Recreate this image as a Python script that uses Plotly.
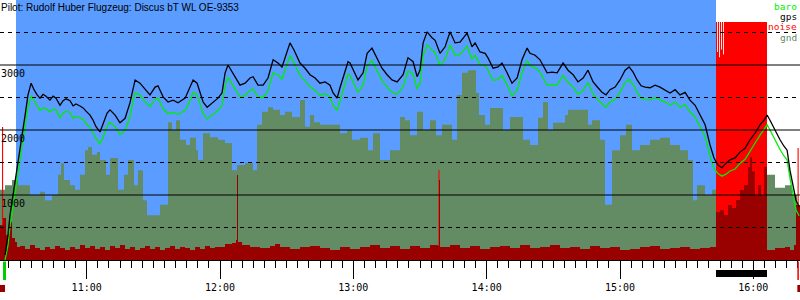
import plotly.graph_objects as go

# ---------------- data ----------------
TITLE = "Pilot: Rudolf Huber Flugzeug: Discus bT WL OE-9353"

# time in minutes after midnight
track_t = [623.3, 624.6, 625.5, 626.9, 627.8, 629.1, 630.0, 631.4, 632.3, 633.6, 635.0, 636.3, 637.7, 639.0,
           640.4, 641.7, 643.5, 644.9, 646.2, 648.0, 649.4, 650.7, 652.5, 653.9, 655.2, 657.0, 658.4, 659.7,
           661.5, 662.9, 664.2, 666.0, 667.4, 669.2, 670.5, 672.8, 675.0, 677.3, 679.5, 680.9, 681.8, 684.0,
           686.3, 688.5, 690.8, 692.1, 694.4, 696.6, 698.9, 701.1, 704.3, 706.5, 707.9, 709.7, 711.0, 712.4,
           714.2, 716.9, 719.1, 720.9, 722.3, 723.6, 725.4, 727.7, 729.0, 731.3, 733.5, 734.9, 737.1, 739.4,
           741.6, 743.9, 746.1, 747.9, 749.7, 751.5, 753.3, 756.0, 758.3, 760.5, 762.8, 765.0, 767.3, 769.5,
           770.9, 772.7, 774.0, 776.3, 777.6, 778.5, 780.8, 782.1, 784.4, 786.2, 788.4, 790.7, 792.9, 795.2,
           797.4, 799.7, 802.4, 804.6, 806.9, 808.7, 810.0, 811.4, 813.2, 815.4, 816.8, 819.0, 821.3, 823.5,
           825.8, 828.0, 831.2, 833.4, 834.8, 837.0, 839.3, 840.6, 842.9, 845.1, 846.9, 849.2, 851.4, 853.7,
           855.9, 858.2, 859.5, 861.8, 864.0, 867.2, 869.4, 871.7, 874.4, 876.6, 878.9, 881.1, 883.4, 885.6,
           887.9, 890.1, 891.9, 893.7, 895.5, 897.8, 900.0, 902.3, 904.1, 905.9, 907.7, 909.5, 911.3, 913.5,
           915.8, 918.0, 920.3, 922.5, 924.8, 927.0, 929.3, 931.5, 933.8, 936.0, 938.3, 940.5, 942.3, 944.1,
           945.9, 947.7, 949.5, 951.8, 954.0, 956.3, 958.5, 960.8, 963.0, 964.8, 966.2, 967.5, 968.9, 970.7,
           972.0, 973.8, 975.2, 976.5, 977.9, 979.2, 980.6]

gps = [80, 385, 690, 1000, 1230, 1460, 1690, 2000, 2230, 2540, 2720, 2620, 2540, 2490,
       2550, 2520, 2460, 2520, 2490, 2380, 2450, 2480, 2450, 2370, 2400, 2370, 2340, 2290,
       2230, 2150, 2050, 1970, 2090, 2260, 2310, 2230, 2110, 2180, 2420, 2650, 2770, 2720,
       2620, 2540, 2660, 2680, 2510, 2430, 2460, 2420, 2490, 2650, 2770, 2720, 2570, 2430,
       2350, 2430, 2490, 2570, 2880, 3000, 2890, 2770, 2690, 2720, 2800, 2820, 2690, 2690,
       2800, 3080, 3030, 2970, 3150, 3340, 3230, 3030, 2950, 2850, 2800, 2720, 2740, 2690,
       2570, 2490, 2650, 2920, 3050, 3030, 2850, 2770, 2880, 3180, 3260, 3110, 2950, 2850,
       2770, 2740, 2850, 3110, 3050, 2820, 2920, 3340, 3510, 3420, 3380, 3180, 3280, 3510,
       3340, 3350, 3490, 3280, 3340, 3200, 3180, 3110, 2950, 2970, 3030, 2880, 2720, 2800,
       3080, 3260, 3180, 3150, 3080, 2880, 2890, 2880, 3030, 2920, 2850, 2740, 2800, 2920,
       2740, 2650, 2580, 2540, 2620, 2660, 2770, 2920, 2970, 2890, 2770, 2680, 2660, 2650,
       2690, 2660, 2620, 2570, 2620, 2540, 2580, 2460, 2380, 2230, 2080, 1770, 1570, 1460,
       1420, 1490, 1540, 1570, 1660, 1720, 1850, 1950, 2080, 2150, 2230, 2150, 2050, 1920,
       1850, 1750, 1690, 1380, 1120, 920, 820]

baro = [0, 230, 520, 830, 1060, 1290, 1520, 1820, 2050, 2350, 2530, 2450, 2360, 2300,
        2340, 2330, 2280, 2320, 2310, 2190, 2260, 2290, 2270, 2180, 2210, 2190, 2160, 2100,
        2040, 1960, 1870, 1790, 1890, 2060, 2120, 2050, 1930, 1990, 2210, 2450, 2570, 2540,
        2430, 2360, 2470, 2490, 2330, 2250, 2270, 2240, 2300, 2450, 2580, 2540, 2380, 2250,
        2170, 2240, 2300, 2380, 2680, 2810, 2710, 2590, 2510, 2530, 2610, 2630, 2510, 2500,
        2610, 2880, 2850, 2780, 2950, 3140, 3040, 2840, 2760, 2660, 2610, 2530, 2560, 2500,
        2380, 2300, 2450, 2720, 2860, 2840, 2660, 2580, 2690, 2980, 3070, 2920, 2760, 2660,
        2580, 2550, 2660, 2910, 2860, 2630, 2720, 3140, 3310, 3230, 3190, 2990, 3090, 3310,
        3150, 3160, 3290, 3090, 3150, 3010, 2990, 2920, 2760, 2780, 2840, 2690, 2530, 2610,
        2880, 3070, 2990, 2960, 2890, 2690, 2700, 2690, 2840, 2730, 2660, 2550, 2610, 2730,
        2550, 2460, 2400, 2350, 2430, 2470, 2580, 2730, 2780, 2700, 2580, 2490, 2470, 2460,
        2500, 2470, 2430, 2380, 2430, 2350, 2390, 2280, 2200, 2050, 1900, 1600, 1410, 1330,
        1290, 1320, 1370, 1400, 1490, 1550, 1680, 1800, 1920, 2000, 2080, 2000, 1900, 1770,
        1700, 1600, 1540, 1260, 990, 770, 680]

gnd_t = [621, 623.25, 626.4, 629.1, 634.5, 639, 641.25, 644.4, 647.1, 648.45, 649.8, 652.5, 654.75,
         657, 659.25, 660.6, 662.4, 664.65, 666, 668.7, 670.5, 674.1, 676.8, 678.6, 681.3, 683.1,
         685.35, 687.15, 693, 696.6, 698.4, 700.2, 702, 704.7, 706.5, 709.2, 710.1, 712.35, 715.5,
         719.1, 722.25, 725.4, 727.65, 731.25, 734.85, 736.65, 738.9, 741.6, 743.85, 747, 749.25,
         752.4, 756, 758.25, 760.5, 762.3, 765, 770.85, 774, 777.15, 779.4, 783, 786.6, 788.85, 792,
         796.5, 801, 803.25, 805.5, 808.65, 811.35, 814.5, 817.2, 819.9, 824.4, 826.65, 828.9, 831.6,
         835.2, 836.55, 839.25, 841.5, 847.35, 850.5, 856.35, 859.5, 863.1, 865.35, 867.6, 869.85,
         875.25, 876.6, 885.6, 887.4, 891, 893.25, 896.4, 900, 902.7, 905.4, 909, 913.5, 918, 922.5,
         927, 930.6, 932.85, 934.65, 938.25, 941.4, 943.2, 966.15, 969.75, 974.25, 977.4, 979.65, 981]
gnd = [1080, 1150, 1230, 1150, 1000, 1050, 920, 1000, 1310, 1490, 1230, 1150, 1080,
       1310, 1690, 1740, 1620, 1660, 1540, 1310, 1570, 1080, 1310, 1540, 1150, 1380,
       920, 690, 850, 2120, 2000, 2150, 1850, 1770, 1880, 1690, 1540, 1950, 1890,
       1850, 1800, 1380, 1460, 1490, 1380, 2080, 2280, 2350, 2310, 2230, 2280,
       2200, 2460, 2050, 2230, 2120, 2080, 2080, 1950, 2000, 1850, 1880, 1690, 1950, 1540,
       1690, 2200, 2150, 1920, 2280, 2000, 2150, 1920, 2080, 1850, 2540, 2880, 2920,
       2570, 2230, 2080, 2340, 2000, 2200, 1850, 1770, 2190, 2430, 2000, 2110,
       2230, 2310, 2080, 2150, 1850, 850, 1690, 1920, 2080, 1690, 1770, 1850, 1880, 1770,
       1690, 1540, 920, 1150, 1000, 1080, 1080, 1310, 1110, 1150, 1000, 770, 770]

noise_t = [621.0, 622.35, 623.7, 625.05, 626.4, 627.75, 628.65, 630.0, 632.25, 634.5, 636.75, 639.0,
           641.25, 643.5, 645.75, 648.0, 650.25, 652.5, 654.75, 657.0, 659.25, 661.5, 663.75, 666.0,
           668.25, 670.5, 672.75, 675.0, 677.25, 679.5, 681.75, 684.0, 686.25, 688.5, 690.75, 693.0,
           695.25, 697.5, 699.75, 702.0, 704.25, 706.5, 708.75, 711.0, 713.25, 715.5, 717.75, 722.25,
           725.4, 727.2, 727.65, 728.1, 729.9, 733.5, 738.0, 742.5, 744.75, 747.0, 751.5, 756.0, 760.5,
           765.0, 769.5, 774.0, 778.5, 783.0, 787.5, 792.0, 796.5, 801.0, 805.5, 810.0, 814.5, 818.1,
           818.55, 819.0, 823.5, 828.0, 832.5, 837.0, 841.5, 846.0, 850.5, 855.0, 859.5, 864.0, 868.5,
           873.0, 877.5, 882.0, 886.5, 891.0, 895.5, 900.0, 904.5, 909.0, 913.5, 918.0, 922.5, 927.0,
           931.5, 936.0, 940.5, 943.2, 945.0, 946.8, 948.6, 950.4, 952.2, 954.0, 955.8, 957.6, 958.5,
           959.4, 960.75, 962.1, 963.45, 964.8, 966.15, 969.75, 974.25, 976.5, 978.3, 979.2, 981.0]
noise = [135, 162, 96, 146, 85, 69, 50, 54, 42, 58, 46, 38,
         50, 42, 54, 46, 38, 50, 42, 58, 46, 54, 42, 50,
         38, 54, 46, 58, 42, 50, 38, 46, 54, 42, 50, 38,
         46, 54, 42, 50, 46, 38, 50, 42, 54, 46, 50, 62,
         65, 77, 327, 69, 58, 50, 46, 54, 62, 50, 42, 50, 54,
         46, 38, 50, 42, 50, 58, 46, 54, 42, 54, 46, 58, 54,
         308, 50, 58, 46, 54, 42, 50, 54, 46, 58, 46, 50, 58,
         46, 50, 42, 54, 46, 50, 38, 42, 50, 54, 42, 46, 50,
         42, 46, 50, 185, 192, 173, 212, 200, 231, 269, 288, 358, 396,
         340, 250, 288, 250, 358, 38, 46, 50, 38, 58, 212, 212]

motor_t = [621.0, 621.9, 622.4, 818.3, 818.8, 943.2, 943.7, 944.1, 944.6, 945.0, 945.5, 945.9,
           946.4, 946.8, 966.15, 979.9, 980.4, 981.0]
motor = [0, 512, 0, 346, 0, 915, 800, 915, 780, 915, 810, 915, 790, 915, 0, 431, 0, 0]

flight_start, motor_start, motor_end, flight_end = 628.2, 943.2, 966.15, 981.0
hour_ticks = [660, 720, 780, 840, 900, 960]
hour_labels = ["11:00", "12:00", "13:00", "14:00", "15:00", "16:00"]
half_ticks = [630, 690, 750, 810, 870, 930]
grid_solid = [1000, 2000, 3000]
grid_dashed = [500, 1500, 2500, 3500]
alt_labels = ["1000", "2000", "3000"]

legend_items = [("baro", "#00ee00"), ("gps", "#000000"), ("noise", "#ff0000"), ("gnd", "#5f8a5f")]

# ---------------- styling ----------------
BLUE = "#5a9cff"
GND = "#648c64"
DARKRED = "#990000"
RED = "#ff0000"
GREEN = "#00ee00"
MONO = "DejaVu Sans Mono"
XR = [621, 981]

fig = go.Figure()
fig.add_trace(go.Scatter(x=gnd_t, y=gnd, mode="lines", line=dict(width=0, shape="hv"),
                         fill="tozeroy", fillcolor=GND, xaxis="x", yaxis="y", hoverinfo="skip"))
fig.add_trace(go.Scatter(x=motor_t, y=motor, mode="lines", line=dict(width=0, shape="hv"),
                         fill="tozeroy", fillcolor=RED, xaxis="x", yaxis="y2", hoverinfo="skip"))
fig.add_trace(go.Scatter(x=noise_t, y=noise, mode="lines", line=dict(width=0, shape="hv"),
                         fill="tozeroy", fillcolor=DARKRED, xaxis="x", yaxis="y2", hoverinfo="skip"))
fig.add_trace(go.Scatter(x=track_t, y=baro, mode="lines", line=dict(width=1.3, color=GREEN),
                         xaxis="x", yaxis="y3"))
fig.add_trace(go.Scatter(x=track_t, y=gps, mode="lines", line=dict(width=1.3, color="black"),
                         xaxis="x", yaxis="y3"))

shapes = []
shapes.append(dict(type="rect", xref="x", yref="paper", x0=flight_start, x1=motor_start, y0=0, y1=1,
                   fillcolor=BLUE, line=dict(width=0), layer="below"))
for g in grid_solid:
    shapes.append(dict(type="line", xref="paper", yref="y", x0=0, x1=1, y0=g, y1=g,
                       line=dict(color="black", width=1), layer="above"))
for g in grid_dashed:
    shapes.append(dict(type="line", xref="paper", yref="y", x0=0, x1=1, y0=g, y1=g,
                       line=dict(color="black", width=1, dash="4px,4px"), layer="above"))
# markers below the axis
shapes.append(dict(type="rect", xref="x", yref="paper", x0=motor_start, x1=motor_end,
                   y0=-0.0654, y1=-0.0385, fillcolor="black", line=dict(width=0)))
shapes.append(dict(type="rect", xref="x", yref="paper", x0=622.35, x1=623.7,
                   y0=-0.077, y1=-0.006, fillcolor="#00cc00", line=dict(width=0)))
shapes.append(dict(type="rect", xref="x", yref="paper", x0=621.0, x1=623.25,
                   y0=-0.123, y1=-0.096, fillcolor=DARKRED, line=dict(width=0)))
shapes.append(dict(type="rect", xref="x", yref="paper", x0=979.8, x1=980.5,
                   y0=-0.077, y1=-0.006, fillcolor=RED, line=dict(width=0)))
shapes.append(dict(type="rect", xref="x", yref="paper", x0=979.8, x1=981.0,
                   y0=-0.123, y1=-0.096, fillcolor=DARKRED, line=dict(width=0)))

annotations = []
annotations.append(dict(text=TITLE, xref="paper", yref="paper", x=0, y=1, xanchor="left", yanchor="top",
                        showarrow=False, font=dict(family="Liberation Sans", size=10, color="black"),
                        borderpad=0, yshift=-1))
for v, lab in zip(grid_solid, alt_labels):
    annotations.append(dict(text=lab, xref="paper", yref="y", x=0, y=v, xanchor="left", yanchor="top",
                            showarrow=False, font=dict(family=MONO, size=10, color="black"),
                            borderpad=0, yshift=-2))
leg_px = [6, 16.5, 27, 37.5]
for (name, col), ypx in zip(legend_items, leg_px):
    annotations.append(dict(text=name, xref="paper", yref="paper", x=1, y=(260 - ypx) / 260,
                            xanchor="right", yanchor="middle", showarrow=False, xshift=-2,
                            font=dict(family=MONO, size=9.5, color=col), borderpad=0))

fig.update_layout(
    width=800, height=300, margin=dict(l=0, r=0, t=0, b=40),
    paper_bgcolor="white", plot_bgcolor="white", showlegend=False,
    shapes=shapes, annotations=annotations,
    xaxis=dict(range=XR, tickmode="array", tickvals=hour_ticks, ticktext=hour_labels,
               ticks="outside", ticklen=18, tickwidth=1, tickcolor="black",
               showline=True, linecolor="black", linewidth=1, showgrid=False, zeroline=False,
               tickfont=dict(family=MONO, size=10, color="black"),
               minor=dict(dtick=5, tick0=0, ticks="outside", ticklen=7, tickcolor="black",
                          tickwidth=1, showgrid=False)),
    xaxis2=dict(range=XR, overlaying="x", anchor="y", side="bottom", tickmode="array",
                tickvals=half_ticks, ticks="outside", ticklen=12, tickwidth=1, tickcolor="black",
                showticklabels=False, showgrid=False, zeroline=False, showline=False),
    yaxis=dict(range=[0, 4000], visible=False, showgrid=False, zeroline=False),
    yaxis2=dict(range=[0, 1000], overlaying="y", visible=False, showgrid=False, zeroline=False),
    yaxis3=dict(range=[0, 4000], overlaying="y", visible=False, showgrid=False, zeroline=False),
)

assert len(track_t) == len(gps) == len(baro), (len(track_t), len(gps), len(baro))
assert len(gnd_t) == len(gnd), (len(gnd_t), len(gnd))
assert len(noise_t) == len(noise), (len(noise_t), len(noise))
assert len(motor_t) == len(motor)

fig.write_html("out.html")
